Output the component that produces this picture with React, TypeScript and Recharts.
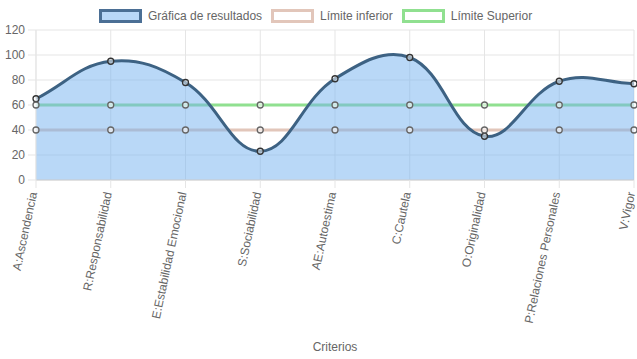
import React from 'react';
import { ComposedChart, Area, XAxis, YAxis, CartesianGrid } from 'recharts';

const criterios = [
  'A:Ascendencia',
  'R:Responsabilidad',
  'E:Estabilidad Emocional',
  'S:Sociabilidad',
  'AE:Autoestima',
  'C:Cautela',
  'O:Originalidad',
  'P:Relaciones Personales',
  'V:Vigor',
];
const resultados = [65, 95, 78, 23, 81, 98, 35, 79, 77];
const limiteInferior = [40, 40, 40, 40, 40, 40, 40, 40, 40];
const limiteSuperior = [60, 60, 60, 60, 60, 60, 60, 60, 60];
const yTicks = [0, 20, 40, 60, 80, 100, 120];

const data = criterios.map((c, i) => ({
  criterio: c,
  resultado: resultados[i],
  inferior: limiteInferior[i],
  superior: limiteSuperior[i],
}));

const FONT = '"Liberation Sans", Arial, Helvetica, sans-serif';
const RES_STROKE = '#3d6283';
const RES_FILL = '#74b2f0';
const INF_COLOR = '#e2c6ba';
const SUP_COLOR = '#90e090';
const GRID = '#e5e5e5';

// bezier like the old chart lib (tension 0.4), passes through every point
const splineCurve = (context: any) => {
  let xs: number[] = [];
  let ys: number[] = [];
  let line = NaN;
  const t = 0.4;
  return {
    areaStart() { line = 0; },
    areaEnd() { line = NaN; },
    lineStart() { xs = []; ys = []; },
    point(x: number, y: number) { xs.push(+x); ys.push(+y); },
    lineEnd() {
      const n = xs.length;
      if (n) {
        if (line) context.lineTo(xs[0], ys[0]);
        else context.moveTo(xs[0], ys[0]);
        const cps = xs.map((_, i) => {
          const p = Math.max(i - 1, 0);
          const nx = Math.min(i + 1, n - 1);
          const d01 = Math.hypot(xs[i] - xs[p], ys[i] - ys[p]);
          const d12 = Math.hypot(xs[nx] - xs[i], ys[nx] - ys[i]);
          let s01 = d01 / (d01 + d12);
          let s12 = d12 / (d01 + d12);
          if (isNaN(s01)) s01 = 0;
          if (isNaN(s12)) s12 = 0;
          const fa = t * s01;
          const fb = t * s12;
          return {
            px: xs[i] - fa * (xs[nx] - xs[p]),
            py: ys[i] - fa * (ys[nx] - ys[p]),
            nx: xs[i] + fb * (xs[nx] - xs[p]),
            ny: ys[i] + fb * (ys[nx] - ys[p]),
          };
        });
        for (let i = 1; i < n; i++) {
          context.bezierCurveTo(cps[i - 1].nx, cps[i - 1].ny, cps[i].px, cps[i].py, xs[i], ys[i]);
        }
      }
      if (line) context.closePath();
      line = 1 - line;
    },
  };
};

const XTick = (props: any) => {
  const { x, y, payload } = props;
  return (
    <g transform={`translate(${x - 3},${y})`}>
      <text
        transform="rotate(-78)"
        textAnchor="end"
        dy="0.35em"
        fill="#666"
        fontSize={12}
        fontFamily={FONT}
      >
        {payload.value}
      </text>
    </g>
  );
};

const legendItems = [
  { label: 'Gráfica de resultados', fill: '#b9d8f8', stroke: '#4b6f95' },
  { label: 'Límite inferior', fill: '#fff', stroke: INF_COLOR },
  { label: 'Límite Superior', fill: '#fff', stroke: SUP_COLOR },
];

export default function App() {
  return (
    <div style={{ position: 'absolute', left: 0, top: 0, width: 637, height: 359, background: '#fff' }}>
      <div
        style={{
          position: 'absolute',
          left: 99,
          top: 9,
          display: 'flex',
          alignItems: 'center',
          fontFamily: FONT,
          fontSize: 12,
          color: '#666',
          whiteSpace: 'nowrap',
        }}
      >
        {legendItems.map((it) => (
          <div key={it.label} style={{ display: 'flex', alignItems: 'center', marginRight: 9 }}>
            <span
              style={{
                display: 'inline-block',
                width: 37,
                height: 8,
                border: `3px solid ${it.stroke}`,
                background: it.fill,
                marginRight: 6,
              }}
            />
            <span>{it.label}</span>
          </div>
        ))}
      </div>
      <ComposedChart
        width={637}
        height={359}
        data={data}
        margin={{ top: 30, right: 3, left: 0, bottom: 0 }}
      >
        <CartesianGrid stroke={GRID} vertical horizontal />
        <XAxis
          dataKey="criterio"
          height={179}
          interval={0}
          tickSize={8}
          tickMargin={4}
          tickLine={{ stroke: GRID }}
          axisLine={{ stroke: '#d0d0d0' }}
          tick={<XTick />}
          label={{
            value: 'Criterios',
            position: 'insideBottom',
            offset: 8,
            fill: '#666',
            fontSize: 12,
            fontFamily: FONT,
          }}
        />
        <YAxis
          width={36}
          domain={[0, 120]}
          ticks={yTicks}
          interval={0}
          tickSize={8}
          tickMargin={3}
          tickLine={{ stroke: GRID }}
          axisLine={{ stroke: GRID }}
          tick={{ fill: '#666', fontSize: 12, fontFamily: FONT }}
        />
        {/* limit lines sit under the translucent results fill */}
        <Area
          dataKey="inferior"
          type="linear"
          stroke={INF_COLOR}
          strokeWidth={3}
          fill="none"
          dot={{ r: 3, fill: '#fff', stroke: '#666', strokeWidth: 1.3 }}
          activeDot={false}
          isAnimationActive={false}
          zIndex={50}
        />
        <Area
          dataKey="superior"
          type="linear"
          stroke={SUP_COLOR}
          strokeWidth={3}
          fill="none"
          dot={{ r: 3, fill: '#fff', stroke: '#666', strokeWidth: 1.3 }}
          activeDot={false}
          isAnimationActive={false}
          zIndex={50}
        />
        <Area
          dataKey="resultado"
          type={splineCurve as any}
          stroke={RES_STROKE}
          strokeWidth={3}
          fill={RES_FILL}
          fillOpacity={0.5}
          dot={{ r: 3, fill: '#fff', stroke: '#333', strokeWidth: 1.3 }}
          activeDot={false}
          isAnimationActive={false}
          zIndex={200}
        />
      </ComposedChart>
    </div>
  );
}
